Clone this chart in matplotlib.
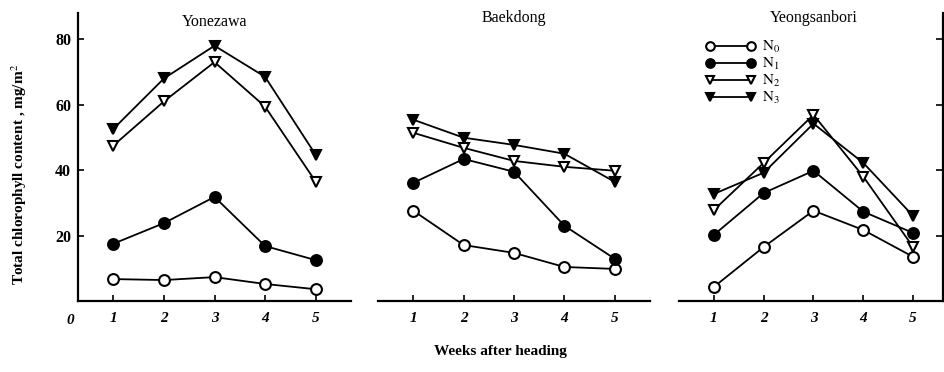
import numpy as np
import matplotlib
matplotlib.use('Agg')
import matplotlib.pyplot as plt

plt.rcParams['font.family'] = ['Liberation Serif', 'DejaVu Serif']
plt.rcParams['mathtext.fontset'] = 'stix'

weeks = [1, 2, 3, 4, 5]
sites = ['Yonezawa', 'Baekdong', 'Yeongsanbori']
labels = [r'$\mathrm{N}_0$', r'$\mathrm{N}_1$', r'$\mathrm{N}_2$', r'$\mathrm{N}_3$']

# values, mg/m2
yonezawa_n0 = [6.7, 6.4, 7.3, 5.2, 3.6]
yonezawa_n1 = [17.5, 23.8, 31.8, 16.8, 12.5]
yonezawa_n2 = [47.5, 61.0, 73.0, 59.4, 36.5]
yonezawa_n3 = [52.6, 68.0, 78.0, 68.5, 44.7]

baekdong_n0 = [27.6, 17.1, 14.7, 10.4, 9.8]
baekdong_n1 = [36.1, 43.4, 39.5, 23.0, 12.9]
baekdong_n2 = [51.4, 46.8, 42.8, 41.0, 39.8]
baekdong_n3 = [55.4, 49.9, 47.7, 45.0, 36.4]

yeong_n0 = [4.3, 16.5, 27.6, 21.7, 13.5]
yeong_n1 = [20.2, 33.0, 39.8, 27.3, 20.8]
yeong_n2 = [27.8, 42.2, 56.9, 38.0, 16.5]
yeong_n3 = [32.7, 39.2, 54.2, 42.2, 26.0]

data = [
    [yonezawa_n0, yonezawa_n1, yonezawa_n2, yonezawa_n3],
    [baekdong_n0, baekdong_n1, baekdong_n2, baekdong_n3],
    [yeong_n0, yeong_n1, yeong_n2, yeong_n3],
]

styles = [
    dict(marker='o', mfc='white'),
    dict(marker='o', mfc='black'),
    dict(marker='v', mfc='white'),
    dict(marker='v', mfc='black'),
]

W, H = 944, 372
fig = plt.figure(figsize=(W / 100, H / 100), dpi=100)

# panel extents in pixels (left, right)
boxes = [(78, 351, 5.7), (378, 650, 5.7), (679, 943, 5.6)]
bottom_px, top_px = 301, 13
title_y = [22, 18, 18]

axes = []
for i, (l, r, xmax) in enumerate(boxes):
    ax = fig.add_axes([l / W, (H - bottom_px) / H, (r - l) / W, (bottom_px - top_px) / H])
    for j, series in enumerate(data[i]):
        ax.plot(weeks, series, color='black', lw=1.3, ms=7.8, mec='black',
                mew=1.5, label=labels[j], **styles[j])
    ax.set_xlim(0.3, xmax)
    ax.set_ylim(0, 88)
    ax.set_xticks(weeks)
    ax.set_xticklabels([str(w) for w in weeks], fontsize=11, fontstyle='italic',
                       fontweight='bold')
    ax.tick_params(axis='x', direction='in', length=4, width=1.2, pad=8)
    ax.spines['top'].set_visible(False)
    ax.spines['right'].set_visible(False)
    ax.spines['bottom'].set_linewidth(1.6)
    fig.text((l + (r - l) * (3 - 0.3) / (xmax - 0.3)) / W, 1 - title_y[i] / H,
             sites[i], ha='center', va='center', fontsize=11.5)
    axes.append(ax)

# left panel y axis
ax0 = axes[0]
ax0.spines['left'].set_linewidth(1.6)
ax0.set_yticks([20, 40, 60, 80])
ax0.set_yticklabels(['20', '40', '60', '80'], fontsize=11.5, fontweight='bold')
ax0.tick_params(axis='y', direction='in', length=4, width=1.2, pad=5)
ax0.set_ylabel('Total chlorophyll content , mg/m$^2$', fontsize=11,
               fontweight='bold')
ax0.yaxis.set_label_coords(-0.18, 0.44)
fig.text(70 / W, 1 - 320 / H, '0', ha='center', va='center',
         fontsize=11, fontstyle='italic', fontweight='bold')

# middle panel: no y axis
axes[1].spines['left'].set_visible(False)
axes[1].set_yticks([])

# right panel: axis on the right side
ax2 = axes[2]
ax2.spines['left'].set_visible(False)
ax2.spines['right'].set_visible(True)
ax2.spines['right'].set_linewidth(1.6)
ax2.yaxis.tick_right()
ax2.set_yticks([20, 40, 60, 80])
ax2.set_yticklabels([])
ax2.tick_params(axis='y', direction='in', length=5, width=1.2)
ax2.legend(loc='upper left', bbox_to_anchor=(0.07, 0.935), frameon=False,
           fontsize=11, numpoints=2, markerscale=0.8, handlelength=3.3,
           handletextpad=0.4, labelspacing=0.05, borderpad=0)

fig.text(500 / W, 1 - 352 / H, 'Weeks after heading', ha='center', va='center',
         fontsize=11, fontweight='bold')

fig.savefig('out.png', dpi=100)
